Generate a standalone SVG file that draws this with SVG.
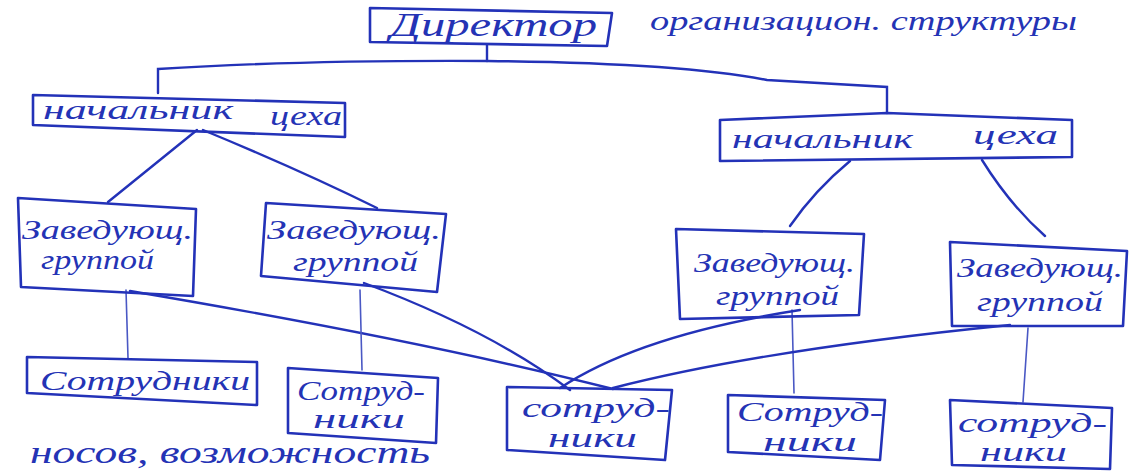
<svg xmlns="http://www.w3.org/2000/svg" width="1129" height="472" viewBox="0 0 1129 472">
<style>
.bx{fill:none;stroke:#2332b8;stroke-width:2.6;stroke-linejoin:round}
.ln{fill:none;stroke:#2332b8;stroke-width:2.4;stroke-linecap:round}
.vt{fill:none;stroke:#4a58c4;stroke-width:1.6;stroke-linecap:round}
text{font-family:"Liberation Serif","DejaVu Serif",serif;font-style:italic;fill:#2433b5}
.t1{font-size:34px}
.t2{font-size:28px}
.t3{font-size:28px}
.t4{font-size:27px}
.t5{font-size:32px}
</style>
<rect width="1129" height="472" fill="#ffffff"/>
<g id="connectors">
<path class="ln" d="M487,45 L487,61"/>
<path class="ln" d="M158,93 L158,69 Q300,60 487,61 Q680,63 767,80 L887,87 L887,113"/>
<path class="ln" d="M197,130 L108,202"/>
<path class="ln" d="M203,130 Q300,170 377,208"/>
<path class="ln" d="M850,161 Q815,190 790,226"/>
<path class="ln" d="M982,160 Q1010,205 1045,236"/>
<path class="vt" d="M126,290 L128,358"/>
<path class="ln" d="M130,291 Q420,340 613,389"/>
<path class="vt" d="M360,290 L362,370"/>
<path class="ln" d="M364,283 Q490,330 570,390"/>
<path class="vt" d="M792,310 L794,393"/>
<path class="ln" d="M800,310 Q640,335 560,388"/>
<path class="ln" d="M1010,325 Q760,350 613,388"/>
<path class="vt" d="M1028,328 L1023,402"/>
</g>
<g id="director">
<path class="bx" d="M370,8 L612,13 L607,46 L370,42 Z"/>
<text class="t1" x="390" y="36" textLength="207" lengthAdjust="spacingAndGlyphs">Директор</text>
</g>
<g id="note-top">
<text class="t2" x="650" y="30" textLength="427" lengthAdjust="spacingAndGlyphs">организацион. структуры</text>
</g>
<g id="chief-left">
<path class="bx" d="M33,95 L345,103 L345,137 L33,125 Z"/>
<text class="t2" x="43" y="119" textLength="190" lengthAdjust="spacingAndGlyphs">начальник</text>
<text class="t2" x="270" y="125" textLength="72" lengthAdjust="spacingAndGlyphs">цеха</text>
</g>
<g id="chief-right">
<path class="bx" d="M720,120 L887,113 L1072,120 L1072,157 L720,161 Z"/>
<text class="t2" x="732" y="148" textLength="181" lengthAdjust="spacingAndGlyphs">начальник</text>
<text class="t2" x="973" y="144" textLength="85" lengthAdjust="spacingAndGlyphs">цеха</text>
</g>
<g id="head-1">
<path class="bx" d="M18,198 L196,209 L193,296 L21,287 Z"/>
<text class="t3" x="22" y="239" textLength="171" lengthAdjust="spacingAndGlyphs">Заведующ.</text>
<text class="t3" x="41" y="269" textLength="113" lengthAdjust="spacingAndGlyphs">группой</text>
</g>
<g id="head-2">
<path class="bx" d="M266,203 L446,214 L437,292 L261,276 Z"/>
<text class="t3" x="267" y="239" textLength="174" lengthAdjust="spacingAndGlyphs">Заведующ.</text>
<text class="t3" x="293" y="271" textLength="125" lengthAdjust="spacingAndGlyphs">группой</text>
</g>
<g id="head-3">
<path class="bx" d="M676,229 L864,234 L859,315 L680,319 Z"/>
<text class="t3" x="694" y="272" textLength="161" lengthAdjust="spacingAndGlyphs">Заведующ.</text>
<text class="t3" x="716" y="305" textLength="123" lengthAdjust="spacingAndGlyphs">группой</text>
</g>
<g id="head-4">
<path class="bx" d="M950,242 L1127,251 L1123,326 L952,326 Z"/>
<text class="t3" x="957" y="277" textLength="166" lengthAdjust="spacingAndGlyphs">Заведующ.</text>
<text class="t3" x="977" y="311" textLength="126" lengthAdjust="spacingAndGlyphs">группой</text>
</g>
<g id="staff-1">
<path class="bx" d="M27,357 L257,362 L257,405 L27,393 Z"/>
<text class="t4" x="40" y="390" textLength="210" lengthAdjust="spacingAndGlyphs">Сотрудники</text>
</g>
<g id="staff-2">
<path class="bx" d="M288,368 L438,378 L436,443 L288,433 Z"/>
<text class="t4" x="297" y="400" textLength="128" lengthAdjust="spacingAndGlyphs">Сотруд-</text>
<text class="t4" x="313" y="428" textLength="92" lengthAdjust="spacingAndGlyphs">ники</text>
</g>
<g id="staff-3">
<path class="bx" d="M507,387 L672,390 L665,460 L507,450 Z"/>
<text class="t4" x="522" y="417" textLength="148" lengthAdjust="spacingAndGlyphs">сотруд-</text>
<text class="t4" x="548" y="447" textLength="89" lengthAdjust="spacingAndGlyphs">ники</text>
</g>
<g id="staff-4">
<path class="bx" d="M728,395 L885,400 L880,460 L728,452 Z"/>
<text class="t4" x="737" y="421" textLength="146" lengthAdjust="spacingAndGlyphs">Сотруд-</text>
<text class="t4" x="763" y="451" textLength="94" lengthAdjust="spacingAndGlyphs">ники</text>
</g>
<g id="staff-5">
<path class="bx" d="M950,400 L1112,408 L1110,469 L952,465 Z"/>
<text class="t4" x="958" y="432" textLength="149" lengthAdjust="spacingAndGlyphs">сотруд-</text>
<text class="t4" x="980" y="461" textLength="87" lengthAdjust="spacingAndGlyphs">ники</text>
</g>
<g id="note-bottom">
<text class="t5" x="30" y="463" textLength="400" lengthAdjust="spacingAndGlyphs">носов, возможность</text>
</g>
</svg>
